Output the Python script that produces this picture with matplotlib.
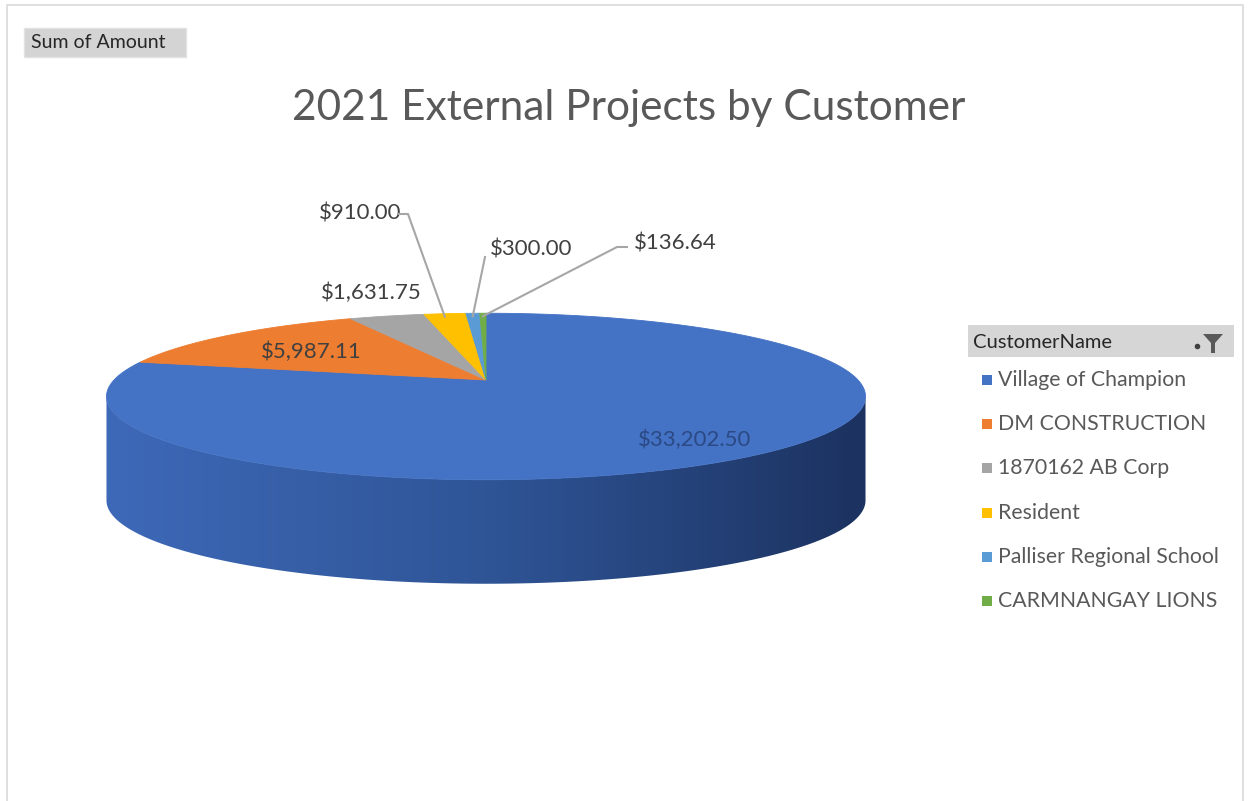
import numpy as np
import matplotlib.pyplot as plt
from matplotlib.patches import Polygon, Rectangle
from matplotlib.colors import LinearSegmentedColormap

plt.rcParams['font.family'] = ['Lato', 'DejaVu Sans']

customers = ["Village of Champion", "DM CONSTRUCTION", "1870162 AB Corp",
             "Resident", "Palliser Regional School", "CARMNANGAY LIONS"]
amounts = [33202.50, 5987.11, 1631.75, 910.00, 300.00, 136.64]
colors = ["#4472C4", "#ED7D31", "#A5A5A5", "#FFC000", "#5B9BD5", "#70AD47"]
title = "2021 External Projects by Customer"

W, H = 1251, 801
fig = plt.figure(figsize=(W / 100, H / 100), dpi=100)
ax = fig.add_axes([0, 0, 1, 1])
ax.set_xlim(0, W)
ax.set_ylim(H, 0)
ax.axis('off')

# pie geometry (pixel space, perspective-tilted disc)
cx, cy = 486, 380
Ax, Ay, e = 372, 80, 0.198
depth = 104


def proj(theta):
    s = 1 + e * np.sin(theta)
    return cx + Ax * np.cos(theta) / s, cy - Ay * np.sin(theta) / s


# side wall (front half, between the silhouette points)
t0 = np.arcsin(-e)
ts = np.linspace(np.pi - t0, 2 * np.pi + t0, 300)
xs, ys = proj(ts)
side = np.concatenate([np.c_[xs, ys], np.c_[xs[::-1], ys[::-1] + depth]])
side_poly = Polygon(side, closed=True, facecolor='none', edgecolor='none')
ax.add_patch(side_poly)
grad = LinearSegmentedColormap.from_list('side', ["#3E69B8", "#2F5597", "#1C3260"])
img = ax.imshow(np.linspace(0, 1, 256)[None, :], cmap=grad, aspect='auto',
                extent=[xs.min(), xs.max(), ys.max() + depth, ys.min()], zorder=1)
img.set_clip_path(side_poly)

# top face slices, clockwise from 12 o'clock
total = sum(amounts)
fracs = np.array(amounts) / total
starts = np.concatenate([[0], np.cumsum(fracs)[:-1]])
mids = []
for f0, f, c in zip(starts, fracs, colors):
    a = np.linspace(np.pi / 2 - 2 * np.pi * f0, np.pi / 2 - 2 * np.pi * (f0 + f),
                    max(int(400 * f), 3))
    px, py = proj(a)
    pts = np.concatenate([[[cx, cy]], np.c_[px, py]])
    ax.add_patch(Polygon(pts, closed=True, facecolor=c, edgecolor=c, lw=0.6, zorder=2))
    mids.append(np.pi / 2 - 2 * np.pi * (f0 + f / 2))

lbl = ['${:,.2f}'.format(v) for v in amounts]
txt = '#404040'
fs = 16
ax.text(695, 440, lbl[0], color='#2B4A85', fontsize=fs, ha='center', va='center', zorder=3)
ax.text(311, 352, lbl[1], color='#404040', fontsize=fs, ha='center', va='center', zorder=3)
ax.text(371, 293, lbl[2], color=txt, fontsize=fs, ha='center', va='center', zorder=3)
ax.text(360, 213, lbl[3], color=txt, fontsize=fs, ha='center', va='center', zorder=3)
ax.text(531, 249, lbl[4], color=txt, fontsize=fs, ha='center', va='center', zorder=3)
ax.text(675, 243, lbl[5], color=txt, fontsize=fs, ha='center', va='center', zorder=3)

# leader lines for the small slices
lc = '#A6A6A6'
for i, (x0, y0, xk) in zip([3, 4, 5], [(399, 214, 408), (485, 257, 485), (627, 247, 617)]):
    ex, ey = proj(mids[i])
    ax.plot([x0, xk, ex], [y0, y0, ey + 3], color=lc, lw=1.5, zorder=3)

# title
ax.text(629, 108, title, color='#595959', fontsize=30.5, ha='center', va='center')

# field button
ax.add_patch(Rectangle((24, 28), 162, 29, facecolor='#D4D4D4', edgecolor='#E2E2E2'))
ax.text(31, 43, "Sum of Amount", color='#262626', fontsize=14, va='center')

# legend with filter header
ax.add_patch(Rectangle((968, 325), 266, 32, facecolor='#D6D6D6', edgecolor='none'))
ax.text(973, 342, "CustomerName", color='#262626', fontsize=14.5, va='center')
ax.add_patch(Polygon([[1203, 334], [1223, 334], [1215, 343], [1215, 353], [1211, 353],
                      [1211, 343]], closed=True, facecolor='#595959', edgecolor='none'))
ax.plot([1197], [346], marker='o', ms=3, color='#404040')
for k, (name, c) in enumerate(zip(customers, colors)):
    y = 380 + 44.2 * k
    ax.add_patch(Rectangle((982, y - 5), 10, 10, facecolor=c, edgecolor='none'))
    ax.text(998, y, name, color='#595959', fontsize=15.3, va='center')

# chart frame
ax.plot([7, 7, 1243, 1243], [801, 5, 5, 801], color='#D9D9D9', lw=1.2)

fig.savefig('out.png', dpi=100)
